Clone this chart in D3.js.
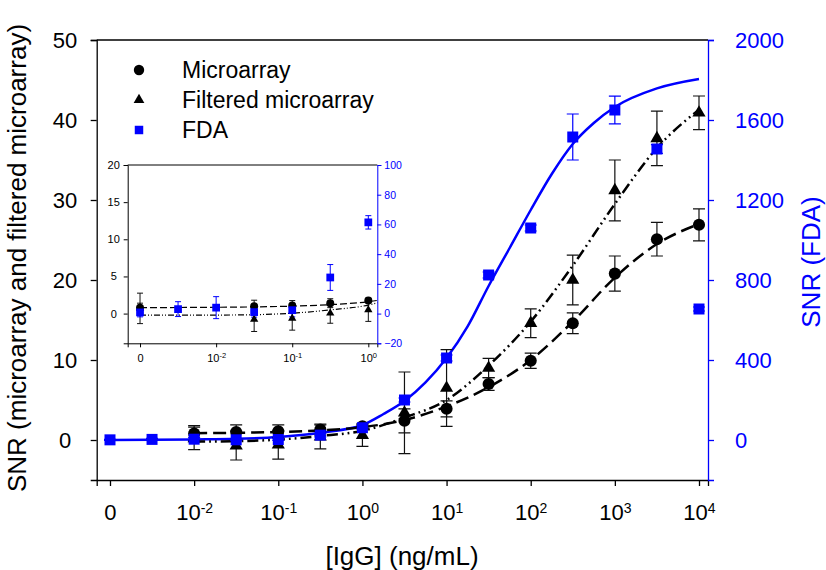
<!DOCTYPE html>
<html><head><meta charset="utf-8">
<script src="https://cdn.jsdelivr.net/npm/d3@7"></script>
<style>body{margin:0;background:#fff}svg{display:block;font-family:"Liberation Sans",Arial,sans-serif}</style>
</head><body><svg id="c" width="826" height="570"></svg>
<script>
// ---------------- data ----------------
const xTickValues = [0, 0.01, 0.1, 1, 10, 100, 1000, 10000];
const xTickLabels = [["0",""],["10","-2"],["10","-1"],["10","0"],["10","1"],["10","2"],["10","3"],["10","4"]];
const leftTicks = [0, 10, 20, 30, 40, 50];
const rightTicks = [0, 400, 800, 1200, 1600, 2000];

const fdaConc = [0, 0.00316, 0.01, 0.0316, 0.1, 0.316, 1, 3.16, 10, 31.6, 100, 316, 1000, 3162, 10000];
const fdaSNR  = [0.8, 3, 4, 1, 2.3, 24.3, 61.4, 200, 410, 825, 1060, 1515, 1650, 1455, 655];
const fdaErr  = [3, 5, 7.4, 3.4, 4.5, 8.7, 4.5, 10, 15, 15, 15, 115, 69, 22, 10];

const arrConc   = [0.01, 0.0316, 0.1, 0.316, 1, 3.16, 10, 31.6, 100, 316, 1000, 3162, 10000];
const microSNR  = [0.8, 1.0, 1.1, 1.3, 1.7, 2.4, 3.9, 7.0, 9.9, 14.6, 20.8, 25.1, 26.9];
const microErr  = [1.0, 0.9, 0.8, 0.7, 0.3, 1.5, 1.0, 0.8, 0.95, 1.3, 2.2, 2.1, 2.0];
const filtSNR   = [0.2, -0.7, -0.6, 0.4, 0.6, 3.4, 6.5, 9.0, 14.6, 20.0, 31.2, 37.7, 40.9];
const filtErr   = [1.4, 1.8, 1.8, 1.5, 1.4, 5.1, 4.8, 1.2, 1.8, 3.1, 3.8, 3.4, 2.1];

const microFit  = [0.85, 0.9, 1.0, 1.2, 1.6, 2.5, 4.2, 6.6, 10.0, 14.8, 20.3, 24.5, 27.0];
const filtFit   = [-0.2, -0.15, 0.05, 0.5, 1.15, 2.8, 5.0, 9.3, 14.8, 21.8, 29.5, 36.5, 41.3];
const fdaFitConc = [0, 0.00316, 0.01, 0.0316, 0.1, 0.316, 1, 1.78, 3.16, 5.62, 10, 17.8, 31.6, 56.2, 100, 178, 316, 562, 1000, 3162, 10000];
const fdaFit     = [0, 1, 3, 6, 15, 36, 75, 130, 195, 288, 410, 568, 770, 960, 1150, 1330, 1480, 1585, 1665, 1758, 1805];

// inset
const insetXTickValues = [0, 0.01, 0.1, 1];
const insetXTickLabels = [["0",""],["10","-2"],["10","-1"],["10","0"]];
const insetLeftTicks = [0, 5, 10, 15, 20];
const insetRightTicks = [-20, 0, 20, 40, 60, 80, 100];
const insetArrConc = [0, 0.0316, 0.1, 0.316, 1];
const insetMicro    = [0.8, 1.0, 1.1, 1.4, 1.75];
const insetMicroErr = [0.6, 0.8, 0.65, 0.6, 0.3];
const insetFilt     = [0.7, -0.76, -0.63, 0.05, 0.5];
const insetFiltErr  = [2.05, 1.65, 1.6, 1.35, 1.55];
const insetFdaConc = [0, 0.00316, 0.01, 0.0316, 0.1, 0.316, 1];
const insetFda     = [0.8, 3, 4, 1, 2.3, 24.3, 61.4];
const insetFdaErr  = [3, 5, 7.4, 3.4, 4.5, 8.7, 4.5];
const insetFitConc = [0, 0.01, 0.0316, 0.1, 0.316, 1, 3.16];
const insetMicroFit = [0.8, 0.85, 0.9, 1.0, 1.2, 1.6, 2.5];
const insetFiltFit  = [-0.2, -0.2, -0.15, 0.05, 0.5, 1.15, 2.8];

const legendItems = ["Microarray", "Filtered microarray", "FDA"];

// ---------------- drawing ----------------
const BLUE = "#0000ff";
const ZERO_AT = 0.001; // "0" is drawn one decade below 10^-2
const svg = d3.select("#c");
const zx = c => (c === 0 ? ZERO_AT : c);
const FONT = "Liberation Sans, Arial, sans-serif";

function supLabels(g, labels, supSize, supDy) {
  g.selectAll(".tick text").each(function(d, i) {
    const t = d3.select(this);
    t.text(null);
    const [b, s] = labels[i];
    t.append("tspan").text(b);
    if (s) t.append("tspan").attr("dy", supDy).attr("font-size", supSize).text(s);
  });
}

function panel(o) {
  const x = d3.scaleLog().domain(o.xDom).range(o.xR);
  const yL = d3.scaleLinear().domain(o.yLDom).range(o.yR);
  const yR = d3.scaleLinear().domain(o.yRDom).range(o.yR);
  const root = svg.append("g");
  if (o.bg) root.append("rect").attr("x", o.xR[0]).attr("y", o.yR[1]).attr("width", o.xR[1]-o.xR[0]).attr("height", o.yR[0]-o.yR[1]).attr("fill", "#fff");
  const clipId = "clip" + Math.round(o.xR[0]);
  root.append("clipPath").attr("id", clipId).append("rect")
    .attr("x", o.xR[0]).attr("y", o.yR[1]).attr("width", o.xR[1]-o.xR[0]).attr("height", o.yR[0]-o.yR[1]);

  root.append("line").attr("x1", o.xR[0]).attr("x2", o.xR[1]).attr("y1", o.yR[1]).attr("y2", o.yR[1])
    .attr("stroke", "#000").attr("stroke-width", o.axW);

  const gx = root.append("g").attr("transform", `translate(0,${o.yR[0]})`)
    .call(d3.axisBottom(x).tickValues(o.xTicks.map(zx)).tickSizeOuter(0).tickSize(o.tick));
  gx.selectAll("path,line").attr("stroke", "#000").attr("stroke-width", o.axW);
  gx.selectAll("text").attr("font-size", o.fs).attr("y", o.xLabY).attr("dy", 0).attr("fill", "#000").attr("font-family", FONT);
  supLabels(gx, o.xLabels, o.supFs, o.supDy);

  const gl = root.append("g").attr("transform", `translate(${o.xR[0]},0)`)
    .call(d3.axisLeft(yL).tickValues(o.lTicks).tickFormat(d3.format("d")).tickSizeOuter(0).tickSize(o.tick));
  gl.selectAll("path,line").attr("stroke", "#000").attr("stroke-width", o.axW);
  gl.selectAll("text").attr("font-size", o.fs).attr("fill", "#000").attr("text-anchor", o.lAnchor).attr("x", o.lLabX).attr("font-family", FONT);

  const gr = root.append("g").attr("transform", `translate(${o.xR[1]},0)`)
    .call(d3.axisRight(yR).tickValues(o.rTicks).tickFormat(d3.format("d")).tickSizeOuter(0).tickSize(o.tick));
  gr.selectAll("path,line").attr("stroke", BLUE).attr("stroke-width", o.axW);
  gr.selectAll("text").attr("font-size", o.rfs).attr("fill", BLUE).attr("x", o.rLabX).attr("font-family", FONT);

  const plot = root.append("g").attr("clip-path", `url(#${clipId})`);
  const lineL = d3.line().x(d => x(zx(d[0]))).y(d => yL(d[1])).curve(d3.curveMonotoneX);
  const lineR = d3.line().x(d => x(zx(d[0]))).y(d => yR(d[1])).curve(d3.curveMonotoneX);

  if (o.fdaFit.length)
    plot.append("path").attr("d", lineR(d3.zip(o.fdaFitConc, o.fdaFit))).attr("fill", "none")
      .attr("stroke", BLUE).attr("stroke-width", o.lw);
  plot.append("path").attr("d", lineL(d3.zip(o.fitConc, o.filtFit))).attr("fill", "none")
    .attr("stroke", "#000").attr("stroke-width", o.lw).attr("stroke-dasharray", o.dashFilt);
  plot.append("path").attr("d", lineL(d3.zip(o.fitConc, o.microFit))).attr("fill", "none")
    .attr("stroke", "#000").attr("stroke-width", o.lw).attr("stroke-dasharray", o.dashMicro);

  const pts = root.append("g");
  function errBars(conc, vals, errs, y, color) {
    const d = d3.zip(conc, vals, errs);
    const g = pts.append("g").attr("stroke", color).attr("stroke-width", o.ebW).attr("fill", "none");
    g.selectAll(null).data(d).join("path").attr("d", ([c, v, e]) => {
      const cx = x(zx(c)), t = y(v + e), b = y(v - e), w = o.cap;
      return `M${cx},${t}V${b}M${cx-w},${t}H${cx+w}M${cx-w},${b}H${cx+w}`;
    });
  }
  function marks(conc, vals, y, type, size, color) {
    pts.append("g").selectAll(null).data(d3.zip(conc, vals)).join("path")
      .attr("transform", ([c, v]) => `translate(${x(zx(c))},${y(v)})`)
      .attr("d", d3.symbol().type(type).size(size)()).attr("fill", color);
  }
  errBars(o.arrConc, o.micro, o.microErr, yL, "#111");
  errBars(o.arrConc, o.filt, o.filtErr, yL, "#111");
  errBars(o.fdaConc, o.fda, o.fdaErr, yR, BLUE);
  marks(o.arrConc, o.micro, yL, d3.symbolCircle, o.sz[0], "#000");
  marks(o.arrConc, o.filt, yL, d3.symbolTriangle, o.sz[1], "#000");
  marks(o.fdaConc, o.fda, yR, d3.symbolSquare, o.sz[2], BLUE);
}

// main
panel({
  xDom: [Math.pow(10, -3.158), Math.pow(10, 4.107)], xR: [96.7, 708],
  yLDom: [-5, 50], yRDom: [-200, 2000], yR: [480, 40],
  xTicks: xTickValues, xLabels: xTickLabels, lTicks: leftTicks, rTicks: rightTicks,
  tick: 6, axW: 1.3, fs: "22px", rfs: "22px", supFs: "14px", supDy: "-7", xLabY: 40,
  lAnchor: "middle", lLabX: -31.7, rLabX: 27,
  fdaFitConc, fdaFit, fitConc: arrConc, microFit, filtFit,
  arrConc, micro: microSNR, microErr, filt: filtSNR, filtErr,
  fdaConc, fda: fdaSNR, fdaErr,
  lw: 2.5, dashMicro: "13,6", dashFilt: "11,4,1.8,4,1.8,4", ebW: 1.2, cap: 6,
  sz: [115, 75, 121]
});

// inset
panel({
  xDom: [Math.pow(10, -3.162), Math.pow(10, 0.118)], xR: [127.7, 377.3],
  yLDom: [-4, 20], yRDom: [-20, 100], yR: [343.3, 165], bg: true,
  xTicks: insetXTickValues, xLabels: insetXTickLabels, lTicks: insetLeftTicks, rTicks: insetRightTicks,
  tick: 4, axW: 1, fs: "11px", rfs: "10.5px", supFs: "7.5px", supDy: "-4", xLabY: 19,
  lAnchor: "middle", lLabX: -14, rLabX: 7,
  fdaFitConc: [], fdaFit: [], fitConc: insetFitConc, microFit: insetMicroFit, filtFit: insetFiltFit,
  arrConc: insetArrConc, micro: insetMicro, microErr: insetMicroErr, filt: insetFilt, filtErr: insetFiltErr,
  fdaConc: insetFdaConc, fda: insetFda, fdaErr: insetFdaErr,
  lw: 1.2, dashMicro: "7,3", dashFilt: "6,2,1,2,1,2", ebW: 1, cap: 3,
  sz: [50, 30, 60]
});

// legend
const lg = svg.append("g");
const legendSyms = [d3.symbolCircle, d3.symbolTriangle, d3.symbolSquare];
const legendCols = ["#000", "#000", BLUE];
const legendSizes = [85, 50, 72];
legendItems.forEach((name, i) => {
  const cy = 70 + i * 30;
  lg.append("path").attr("transform", `translate(139,${cy})`)
    .attr("d", d3.symbol().type(legendSyms[i]).size(legendSizes[i])()).attr("fill", legendCols[i]);
  lg.append("text").attr("x", 182).attr("y", cy + 8.3).attr("font-size", "23px").attr("fill", "#000").text(name);
});

// titles
svg.append("text").attr("transform", "translate(26,258) rotate(-90)").attr("text-anchor", "middle")
  .attr("font-size", "26px").attr("fill", "#000").text("SNR (microarray and filtered microarray)");
svg.append("text").attr("transform", "translate(820,262) rotate(-90)").attr("text-anchor", "middle")
  .attr("font-size", "26px").attr("fill", BLUE).text("SNR (FDA)");
svg.append("text").attr("x", 402).attr("y", 565).attr("text-anchor", "middle")
  .attr("font-size", "26px").attr("fill", "#000").text("[IgG] (ng/mL)");
</script>
</body></html>
